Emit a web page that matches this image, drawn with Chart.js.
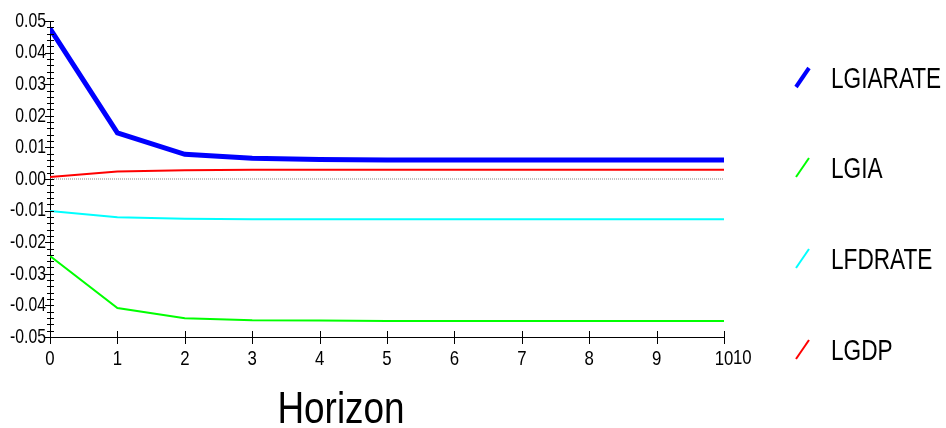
<!DOCTYPE html>
<html>
<head>
<meta charset="utf-8">
<script src="https://cdn.jsdelivr.net/npm/chart.js@4/dist/chart.umd.min.js"></script>
<style>
    html, body { margin: 0; padding: 0; background: #fff; }
    #wrap { position: relative; width: 946px; height: 428px; }
</style>
</head>
<body>
<div id="wrap"><canvas id="chart"></canvas></div>
<script>
const FONT = `"Liberation Sans", Arial, sans-serif`;

// horizon steps along the x axis
const horizon = [0, 1, 2, 3, 4, 5, 6, 7, 8, 9, 10];

// responses
const lgiarate = [0.0476, 0.0146, 0.0078, 0.0066, 0.0062, 0.0060, 0.0060, 0.0060, 0.0060, 0.0060, 0.0060];
const lgia = [-0.0244, -0.0408, -0.0441, -0.0447, -0.0448, -0.0449, -0.0449, -0.0449, -0.0449, -0.0449, -0.0449];
const lfdrate = [-0.0101, -0.0121, -0.0126, -0.0127, -0.0127, -0.0127, -0.0127, -0.0127, -0.0127, -0.0127, -0.0127];
const lgdp = [0.0006, 0.0024, 0.0028, 0.0029, 0.0029, 0.0029, 0.0029, 0.0029, 0.0029, 0.0029, 0.0029];
const zeroLine = horizon.map(() => 0);

const seriesNames = [`LGIARATE`, `LGIA`, `LFDRATE`, `LGDP`];
const seriesColors = [`#0000ff`, `#00ff00`, `#00ffff`, `#ff0000`];
const seriesWidths = [5, 2, 2, 2];
const seriesValues = [lgiarate, lgia, lfdrate, lgdp];

const points = function (values) {
    return values.map((v, i) => ({ x: horizon[i], y: v }));
};

const datasets = seriesValues.map((values, i) => ({
    label: seriesNames[i],
    data: points(values),
    borderColor: seriesColors[i],
    borderWidth: seriesWidths[i],
    pointRadius: 0,
    tension: 0,
}));
datasets.push({
    label: `zero`,
    data: points(zeroLine),
    borderColor: `#888888`,
    borderWidth: 1,
    borderDash: [1, 1],
    pointRadius: 0,
});

// the picture uses a condensed face, so squeeze Liberation Sans to match
const narrowText = function (ctx, text, x, y, size, squeeze, align, baseline) {
    ctx.save();
    ctx.translate(x, y);
    ctx.scale(squeeze, 1);
    ctx.font = `${size}px ${FONT}`;
    ctx.textAlign = align;
    ctx.textBaseline = baseline;
    ctx.fillStyle = `#000`;
    ctx.fillText(text, 0, 0);
    ctx.restore();
};

// axis ticks that cross the axis lines, tick labels, title and the legend
const decorations = {
    id: `decorations`,
    afterDraw(chart) {
        const { ctx, scales: { x, y } } = chart;
        ctx.save();
        ctx.strokeStyle = `#000`;
        ctx.lineWidth = 1;
        ctx.beginPath();
        for (let k = -25; k <= 25; k += 1) {
            const py = Math.round(y.getPixelForValue(k * 0.002)) + 0.5;
            const major = k % 5 === 0;
            ctx.moveTo(x.left - (major ? 5 : 3), py);
            ctx.lineTo(x.left + 4, py);
        }
        horizon.forEach(h => {
            const px = Math.round(x.getPixelForValue(h)) + 0.5;
            ctx.moveTo(px, y.bottom - 6);
            ctx.lineTo(px, y.bottom + 7);
        });
        ctx.stroke();
        ctx.restore();

        y.ticks.forEach(t => {
            const v = Math.abs(t.value) < 1e-9 ? 0 : t.value;
            narrowText(ctx, v.toFixed(2), x.left - 4, y.getPixelForValue(t.value), 21, 0.75, `right`, `middle`);
        });
        x.ticks.forEach(t => {
            narrowText(ctx, String(t.value), x.getPixelForValue(t.value), y.bottom + 22, 21, 0.8, `center`, `middle`);
        });
        narrowText(ctx, `10`, x.right + 9, y.bottom + 21, 21, 0.8, `left`, `middle`);
        narrowText(ctx, `Horizon`, 341, 423, 45, 0.82, `center`, `alphabetic`);

        // legend
        const rows = [78, 168, 259, 350];
        seriesNames.forEach((name, i) => {
            const cy = rows[i];
            ctx.save();
            ctx.strokeStyle = seriesColors[i];
            ctx.lineWidth = i === 0 ? 4 : 2;
            ctx.beginPath();
            ctx.moveTo(796, cy + 9);
            ctx.lineTo(809, cy - 10);
            ctx.stroke();
            ctx.restore();
            narrowText(ctx, name, 831, cy + 10, 29, 0.78, `left`, `alphabetic`);
        });
    },
};

const chart = new Chart(document.getElementById(`chart`), {
    type: `line`,
    data: { datasets },
    options: {
        responsive: true,
        maintainAspectRatio: false,
        animation: false,
        layout: { padding: { top: 21, right: 222, bottom: 0, left: 0 } },
        plugins: {
            legend: { display: false },
            tooltip: { enabled: false },
        },
        scales: {
            x: {
                type: `linear`,
                min: 0,
                max: 10,
                ticks: { stepSize: 1, display: false },
                grid: { drawOnChartArea: false, drawTicks: false },
                border: { display: true, color: `#000`, width: 1 },
                afterFit(scale) { scale.height = 91; },
            },
            y: {
                min: -0.05,
                max: 0.05,
                ticks: { stepSize: 0.01, display: false },
                grid: { drawOnChartArea: false, drawTicks: false },
                border: { display: true, color: `#000`, width: 1 },
                afterFit(scale) { scale.width = 50; },
            },
        },
    },
    plugins: [decorations],
});
</script>
</body>
</html>
